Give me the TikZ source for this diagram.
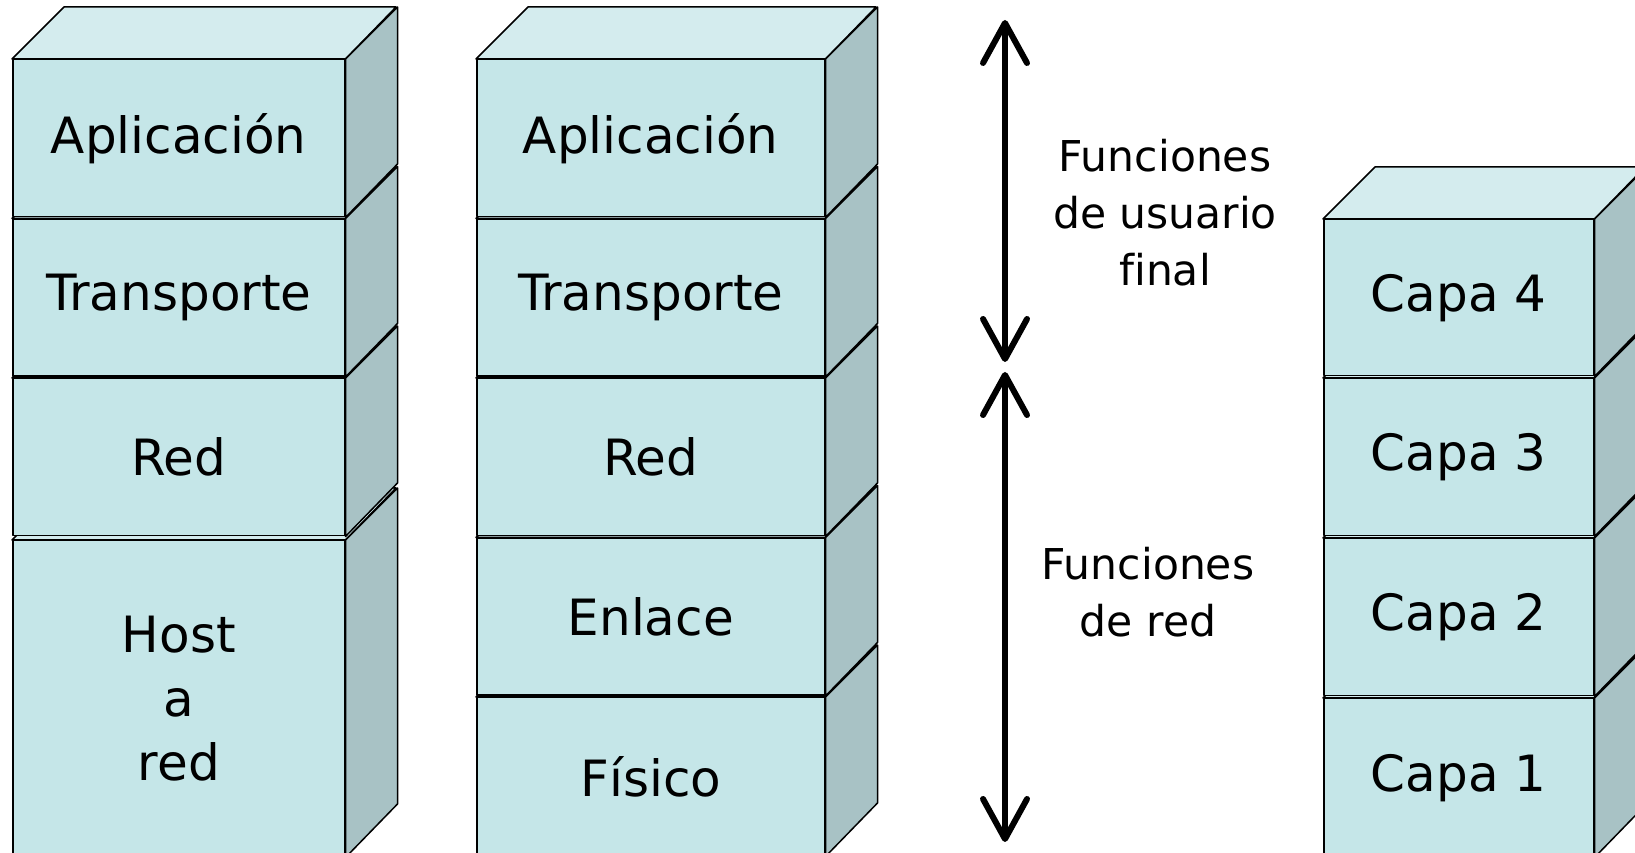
\documentclass[tikz,border=0pt]{standalone}
\usepackage{fontspec}
\setmainfont{DejaVu Sans}[Ligatures=NoCommon]
\usetikzlibrary{arrows.meta}
\definecolor{frontc}{RGB}{197,230,232}
\definecolor{topc}{RGB}{212,236,238}
\definecolor{sidec}{RGB}{168,194,197}
\tikzset{
  face/.style={draw=black, line width=1.5pt, line join=round},
  layer/.style={face, fill=frontc, inner sep=0pt, font=\fontsize{50}{64}\selectfont, align=center},
  side label/.style={font=\fontsize{42.5}{57}\selectfont, align=center},
  bigarrow/.style={line width=6pt, {Straight Barb[length=40pt,width=44pt,round]}-{Straight Barb[length=40pt,width=44pt,round]}}
}
\newcommand{\layerbox}[6]{%
  \node[layer, anchor=north west, minimum width=#4pt, minimum height=#5pt] (#1) at (#2, 853-#3) {#6};
  \filldraw[face, fill=topc] (#1.north west) -- ++(52,52) -- ++(#4,0) -- (#1.north east) -- cycle;
  \filldraw[face, fill=sidec] (#1.north east) -- ++(52,52) -- ++(0,-#5) -- (#1.south east) -- cycle;
}
\begin{document}
\begin{tikzpicture}[x=1pt,y=1pt]
\useasboundingbox (0,0) rectangle (1635,853);
\clip (0,0) rectangle (1635,853);
\fill[white] (0,0) rectangle (1635,853);
% stack 1
\layerbox{hostred}{12}{540}{332}{316}{Host\\a\\red}
\layerbox{redA}{12}{378}{332}{157}{Red}
\layerbox{transA}{12}{218.5}{332}{157}{Transporte}
\layerbox{aplA}{12}{59}{332}{157}{Aplicación}
% stack 2
\layerbox{fisB}{476}{697}{348}{158}{Físico}
\layerbox{enlB}{476}{537.5}{348}{157}{Enlace}
\layerbox{redB}{476}{378}{348}{157}{Red}
\layerbox{transB}{476}{218.5}{348}{157}{Transporte}
\layerbox{aplB}{476}{59}{348}{157}{Aplicación}
% stack 3
\layerbox{capa1}{1323}{698}{270}{158}{Capa 1}
\layerbox{capa2}{1323}{538}{270}{157}{Capa 2}
\layerbox{capa3}{1323}{378}{270}{157}{Capa 3}
\layerbox{capa4}{1323}{219}{270}{156}{Capa 4}
% arrows
\coordinate (u1) at (1005,853-20);
\coordinate (u2) at (1005,853-362);
\coordinate (n1) at (1005,853-372);
\coordinate (n2) at (1005,853-842);
\draw[bigarrow] (u1) -- (u2);
\draw[bigarrow] (n1) -- (n2);
\node[side label] (lu) at (1165,853-213) {Funciones\\de usuario\\final};
\node[side label] (lr) at (1148,853-592) {Funciones\\de red};
\end{tikzpicture}
\end{document}
